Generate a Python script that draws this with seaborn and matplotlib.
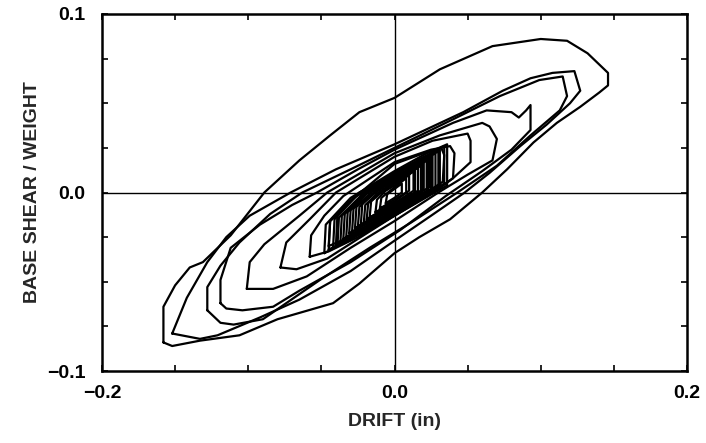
import numpy as np
import pandas as pd
import matplotlib
matplotlib.use("Agg")
import matplotlib.pyplot as plt
import seaborn as sns

# ---- data: drift (in) vs base shear / weight ----
drift_A = [-0.158, -0.158, -0.150, -0.140, -0.131, -0.112, -0.089, -0.065, -0.044, -0.024, 0.000, 0.031, 0.067, 0.100, 0.118, 0.132, 0.146, 0.146, 0.140, 0.127, 0.111, 0.095, 0.077, 0.060, 0.038, 0.017, 0.000, -0.024, -0.042, -0.080, -0.106, -0.133, -0.152, -0.158]
shear_A = [-0.084, -0.064, -0.052, -0.042, -0.039, -0.024, 0.000, 0.018, 0.032, 0.045, 0.053, 0.069, 0.082, 0.086, 0.085, 0.078, 0.067, 0.060, 0.056, 0.048, 0.039, 0.028, 0.013, 0.000, -0.015, -0.025, -0.034, -0.051, -0.062, -0.071, -0.080, -0.083, -0.086, -0.084]

drift_B = [-0.152, -0.142, -0.128, -0.115, -0.099, -0.071, -0.040, 0.000, 0.047, 0.074, 0.093, 0.108, 0.123, 0.127, 0.120, 0.104, 0.086, 0.065, 0.048, 0.025, 0.000, -0.030, -0.065, -0.092, -0.121, -0.133, -0.152]
shear_B = [-0.079, -0.059, -0.039, -0.025, -0.013, 0.000, 0.013, 0.027, 0.045, 0.057, 0.064, 0.067, 0.068, 0.057, 0.050, 0.038, 0.026, 0.011, 0.000, -0.013, -0.027, -0.044, -0.060, -0.070, -0.080, -0.082, -0.079]

drift_C = [-0.128, -0.128, -0.119, -0.106, -0.085, -0.063, -0.030, 0.000, 0.040, 0.072, 0.099, 0.115, 0.118, 0.113, 0.093, 0.070, 0.043, 0.011, -0.017, -0.051, -0.090, -0.110, -0.119, -0.128]
shear_C = [-0.066, -0.053, -0.041, -0.028, -0.012, 0.000, 0.013, 0.025, 0.041, 0.054, 0.063, 0.065, 0.054, 0.046, 0.032, 0.015, 0.000, -0.017, -0.031, -0.049, -0.071, -0.074, -0.073, -0.066]

drift_D = [-0.119, -0.119, -0.112, -0.092, -0.070, -0.053, -0.025, 0.000, 0.040, 0.063, 0.080, 0.085, 0.090, 0.093, 0.093, 0.080, 0.060, 0.035, 0.004, -0.030, -0.065, -0.083, -0.104, -0.115, -0.119]
shear_D = [-0.062, -0.049, -0.031, -0.018, -0.007, 0.000, 0.013, 0.024, 0.039, 0.046, 0.045, 0.042, 0.046, 0.049, 0.035, 0.024, 0.012, -0.002, -0.021, -0.039, -0.055, -0.064, -0.066, -0.065, -0.062]

drift_E = [-0.101, -0.099, -0.089, -0.065, -0.046, 0.000, 0.031, 0.060, 0.065, 0.070, 0.067, 0.050, 0.030, 0.000, -0.030, -0.060, -0.083, -0.101]
shear_E = [-0.054, -0.039, -0.029, -0.013, 0.000, 0.022, 0.032, 0.039, 0.037, 0.030, 0.018, 0.010, 0.000, -0.016, -0.031, -0.047, -0.054, -0.054]

drift_F = [-0.078, -0.074, -0.058, -0.040, 0.000, 0.026, 0.050, 0.052, 0.052, 0.040, 0.026, 0.000, -0.025, -0.046, -0.067, -0.078]
shear_F = [-0.042, -0.028, -0.015, 0.000, 0.020, 0.029, 0.033, 0.029, 0.017, 0.008, 0.000, -0.013, -0.026, -0.037, -0.043, -0.042]

drift_G = [-0.058, -0.057, -0.048, -0.035, 0.000, 0.025, 0.038, 0.041, 0.040, 0.030, 0.000, -0.025, -0.045, -0.058]
shear_G = [-0.036, -0.024, -0.013, -0.002, 0.017, 0.024, 0.026, 0.022, 0.008, 0.002, -0.013, -0.025, -0.033, -0.036]

drift_H = [-0.045, -0.044, -0.032, 0.000, 0.020, 0.032, 0.034, 0.033, 0.020, 0.000, -0.025, -0.045]
shear_H = [-0.030, -0.016, -0.006, 0.016, 0.022, 0.025, 0.021, 0.006, -0.001, -0.011, -0.023, -0.030]

drift_c0 = [-0.048, -0.047, -0.030, 0.000, 0.022, 0.036, 0.036, 0.000, -0.048]
shear_c0 = [-0.034, -0.018, -0.003, 0.012, 0.022, 0.027, 0.004, -0.013, -0.034]
drift_c0b = [-0.045, -0.044, -0.028, 0.000, 0.020, 0.034, 0.034, 0.000, -0.045]
shear_c0b = [-0.032, -0.016, -0.003, 0.011, 0.020, 0.026, 0.005, -0.012, -0.032]
drift_c1 = [-0.042, -0.041, -0.026, 0.000, 0.019, 0.031, 0.031, 0.000, -0.042]
shear_c1 = [-0.031, -0.015, -0.002, 0.011, 0.019, 0.024, 0.003, -0.012, -0.031]
drift_c1b = [-0.039, -0.038, -0.023, 0.000, 0.018, 0.030, 0.030, 0.000, -0.039]
shear_c1b = [-0.030, -0.014, -0.002, 0.010, 0.018, 0.023, 0.004, -0.011, -0.030]
drift_c2 = [-0.037, -0.036, -0.022, 0.000, 0.017, 0.028, 0.028, 0.000, -0.037]
shear_c2 = [-0.028, -0.013, -0.001, 0.010, 0.017, 0.022, 0.002, -0.011, -0.028]
drift_c2b = [-0.040, -0.039, -0.024, 0.000, 0.016, 0.026, 0.026, 0.000, -0.040]
shear_c2b = [-0.029, -0.012, 0.000, 0.011, 0.016, 0.021, 0.000, -0.012, -0.029]
drift_c3 = [-0.033, -0.032, -0.019, 0.000, 0.015, 0.025, 0.025, 0.000, -0.033]
shear_c3 = [-0.025, -0.011, 0.000, 0.009, 0.015, 0.020, 0.002, -0.010, -0.025]
drift_c3b = [-0.035, -0.034, -0.020, 0.000, 0.014, 0.023, 0.023, 0.000, -0.035]
shear_c3b = [-0.026, -0.012, -0.001, 0.009, 0.014, 0.019, 0.000, -0.010, -0.026]
drift_c4 = [-0.029, -0.028, -0.016, 0.000, 0.013, 0.022, 0.022, 0.000, -0.029]
shear_c4 = [-0.022, -0.009, 0.000, 0.008, 0.013, 0.018, 0.001, -0.009, -0.022]
drift_c4b = [-0.031, -0.030, -0.017, 0.000, 0.014, 0.024, 0.024, 0.000, -0.031]
shear_c4b = [-0.023, -0.010, 0.001, 0.009, 0.014, 0.019, 0.003, -0.008, -0.023]
drift_c5 = [-0.025, -0.024, -0.013, 0.000, 0.011, 0.019, 0.019, 0.000, -0.025]
shear_c5 = [-0.019, -0.008, 0.000, 0.007, 0.012, 0.016, 0.001, -0.008, -0.019]
drift_c5b = [-0.027, -0.026, -0.014, 0.000, 0.012, 0.020, 0.020, 0.000, -0.027]
shear_c5b = [-0.020, -0.008, 0.000, 0.008, 0.012, 0.017, 0.002, -0.008, -0.020]
drift_c6 = [-0.021, -0.020, -0.011, 0.000, 0.009, 0.016, 0.016, 0.000, -0.021]
shear_c6 = [-0.017, -0.007, 0.000, 0.006, 0.010, 0.014, 0.001, -0.007, -0.017]
drift_c6b = [-0.023, -0.022, -0.012, 0.000, 0.010, 0.018, 0.018, 0.000, -0.023]
shear_c6b = [-0.018, -0.006, 0.001, 0.007, 0.011, 0.015, 0.000, -0.007, -0.018]
drift_c7 = [-0.017, -0.016, -0.008, 0.000, 0.007, 0.013, 0.013, 0.000, -0.017]
shear_c7 = [-0.014, -0.005, 0.001, 0.005, 0.008, 0.012, 0.001, -0.006, -0.014]
drift_c7b = [-0.019, -0.018, -0.009, 0.000, 0.008, 0.014, 0.014, 0.000, -0.019]
shear_c7b = [-0.015, -0.006, 0.000, 0.006, 0.009, 0.013, 0.000, -0.006, -0.015]
drift_c8 = [-0.013, -0.012, -0.006, 0.000, 0.005, 0.010, 0.010, 0.000, -0.013]
shear_c8 = [-0.011, -0.004, 0.001, 0.004, 0.007, 0.010, 0.001, -0.005, -0.011]
drift_c9 = [-0.010, -0.009, 0.000, 0.008, 0.008, 0.000, -0.010]
shear_c9 = [-0.009, -0.003, 0.003, 0.008, 0.000, -0.004, -0.009]
drift_c10 = [-0.006, -0.005, 0.000, 0.005, 0.005, 0.000, -0.006]
shear_c10 = [-0.006, -0.001, 0.002, 0.005, 0.000, -0.003, -0.006]

x_ticks = [-0.2, -0.15, -0.1, -0.05, 0.0, 0.05, 0.1, 0.15, 0.2]
x_tick_labels = ["\u22120.2", "", "", "", "0.0", "", "", "", "0.2"]
y_ticks = [-0.1, -0.075, -0.05, -0.025, 0.0, 0.025, 0.05, 0.075, 0.1]
y_tick_labels = ["\u22120.1", "", "", "", "0.0", "", "", "", "0.1"]
x_label = "DRIFT (in)"
y_label = "BASE SHEAR / WEIGHT"

cycles = [
    ("A", drift_A, shear_A), ("B", drift_B, shear_B), ("C", drift_C, shear_C),
    ("D", drift_D, shear_D), ("E", drift_E, shear_E), ("F", drift_F, shear_F),
    ("G", drift_G, shear_G), ("H", drift_H, shear_H),
    ("c0", drift_c0, shear_c0), ("c0b", drift_c0b, shear_c0b),
    ("c1", drift_c1, shear_c1), ("c1b", drift_c1b, shear_c1b),
    ("c2", drift_c2, shear_c2), ("c2b", drift_c2b, shear_c2b),
    ("c3", drift_c3, shear_c3), ("c3b", drift_c3b, shear_c3b),
    ("c4", drift_c4, shear_c4), ("c4b", drift_c4b, shear_c4b),
    ("c5", drift_c5, shear_c5), ("c5b", drift_c5b, shear_c5b),
    ("c6", drift_c6, shear_c6), ("c6b", drift_c6b, shear_c6b),
    ("c7", drift_c7, shear_c7), ("c7b", drift_c7b, shear_c7b),
    ("c8", drift_c8, shear_c8), ("c9", drift_c9, shear_c9), ("c10", drift_c10, shear_c10),
]
frames = []
for name, xs, ys in cycles:
    frames.append(pd.DataFrame({"drift": xs, "shear": ys, "cycle": name}))
df = pd.concat(frames, ignore_index=True)

sns.set_style("ticks")
plt.rcParams["font.family"] = ["Liberation Sans", "DejaVu Sans"]

fig = plt.figure(figsize=(7.06, 4.43), dpi=100)
ax = fig.add_axes([102 / 706, (443 - 371) / 443, 585 / 706, 357 / 443])

ax.axhline(0, color="black", lw=1.0, zorder=1)
ax.axvline(0, color="black", lw=1.0, zorder=1)

sns.lineplot(data=df, x="drift", y="shear", units="cycle", estimator=None,
             sort=False, color="black", lw=1.6, ax=ax, zorder=2)

ax.set_xlim(-0.2, 0.2)
ax.set_ylim(-0.1, 0.1)
ax.set_xticks(x_ticks)
ax.set_xticklabels(x_tick_labels)
ax.set_yticks(y_ticks)
ax.set_yticklabels(y_tick_labels)
ax.tick_params(direction="in", length=4, width=1.2, top=True, right=True,
               labelsize=14, pad=10, colors="black")
ax.tick_params(axis="y", pad=12)
for lab in ax.get_xticklabels() + ax.get_yticklabels():
    lab.set_fontweight("bold")
for s in ax.spines.values():
    s.set_linewidth(1.8)
    s.set_color("black")
ax.set_xlabel(x_label, fontsize=14, fontweight="bold", labelpad=8)
ax.set_ylabel(y_label, fontsize=14, fontweight="bold", labelpad=4)

fig.savefig("out.png", dpi=100, facecolor="white")
